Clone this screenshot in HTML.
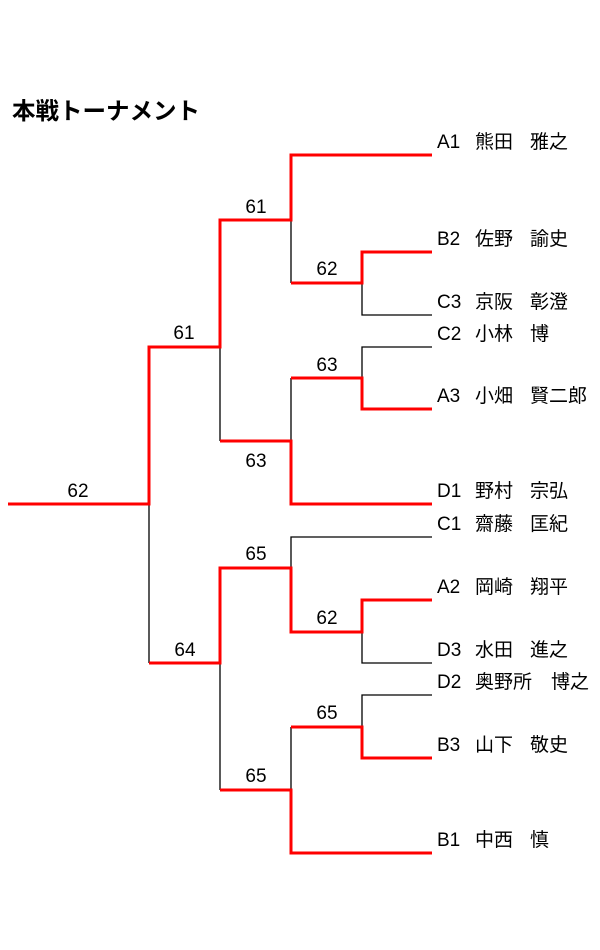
<!DOCTYPE html>
<html><head><meta charset="utf-8"><style>
html,body{margin:0;padding:0;background:#fff;width:600px;height:950px;overflow:hidden}
svg{display:block}
text{font-family:"Liberation Sans","Noto Sans CJK JP",sans-serif;fill:#000}
</style></head><body>
<svg width="600" height="950" viewBox="0 0 600 950" xmlns="http://www.w3.org/2000/svg">
<text x="12" y="119" font-size="23.5" font-weight="bold">本戦トーナメント</text>
<g stroke="#000" stroke-width="1.3" fill="none">
<path d="M149 504V663"/>
<path d="M220 347V441M220 663V790"/>
<path d="M291 220V283M291 441V378M291 568V537H432M291 790V727"/>
<path d="M362 283V315H432M362 378V347H432M362 632V663H432M362 727V695H432"/>
</g>
<g stroke="#f00" stroke-width="3" fill="none" stroke-linejoin="miter">
<path d="M8 504H149V347H220V220H291V155H432"/>
<path d="M291 283H362V252H432"/>
<path d="M220 441H291V504H432"/>
<path d="M291 378H362V409H432"/>
<path d="M149 663H220V568H291V632H362V600H432"/>
<path d="M220 790H291V853H432"/>
<path d="M291 727H362V758H432"/>
</g>
<g font-size="19" text-anchor="middle">
<text x="78" y="497">62</text>
<text x="184" y="339">61</text>
<text x="256" y="213">61</text>
<text x="256" y="467">63</text>
<text x="327" y="275">62</text>
<text x="327" y="371">63</text>
<text x="256" y="560">65</text>
<text x="185" y="656">64</text>
<text x="327" y="624">62</text>
<text x="327" y="719">65</text>
<text x="256" y="782">65</text>
</g>
<g font-size="19">
<text x="437" y="148">A1</text><text x="475" y="148">熊田</text><text x="530" y="148">雅之</text>
<text x="437" y="245">B2</text><text x="475" y="245">佐野</text><text x="530" y="245">諭史</text>
<text x="437" y="308">C3</text><text x="475" y="308">京阪</text><text x="530" y="308">彰澄</text>
<text x="437" y="340">C2</text><text x="475" y="340">小林</text><text x="530" y="340">博</text>
<text x="437" y="402">A3</text><text x="475" y="402">小畑</text><text x="530" y="402">賢二郎</text>
<text x="437" y="497">D1</text><text x="475" y="497">野村</text><text x="530" y="497">宗弘</text>
<text x="437" y="530">C1</text><text x="475" y="530">齋藤</text><text x="530" y="530">匡紀</text>
<text x="437" y="593">A2</text><text x="475" y="593">岡崎</text><text x="530" y="593">翔平</text>
<text x="437" y="656">D3</text><text x="475" y="656">水田</text><text x="530" y="656">進之</text>
<text x="437" y="688">D2</text><text x="475" y="688">奥野所</text><text x="551" y="688">博之</text>
<text x="437" y="751">B3</text><text x="475" y="751">山下</text><text x="530" y="751">敬史</text>
<text x="437" y="846">B1</text><text x="475" y="846">中西</text><text x="530" y="846">慎</text>
</g>
</svg>
</body></html>
